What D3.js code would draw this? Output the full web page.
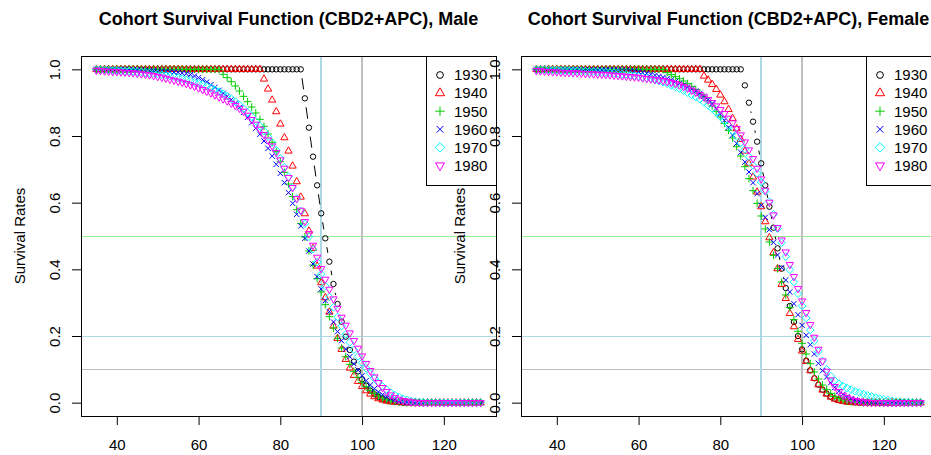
<!DOCTYPE html>
<html>
<head>
<meta charset="utf-8">
<script src="https://cdn.jsdelivr.net/npm/d3@7"></script>
<style>
  html, body { margin: 0; padding: 0; background: #ffffff; }
  svg { display: block; }
  text { font-family: "Liberation Sans", Arial, Helvetica, sans-serif; }
</style>
</head>
<body>
<svg id="chart" width="931" height="455"></svg>
<script>
// ---- data ----
const ageStart = 35, ageEnd = 129;
const ages = d3.range(ageStart, ageEnd + 1);
const cohorts = ["1930", "1940", "1950", "1960", "1970", "1980"];
const xTicks = [40, 60, 80, 100, 120];
const yTicks = [0, 0.2, 0.4, 0.6, 0.8, 1.0];
const hLines = [0.5, 0.2, 0.1];
const vLines = [90, 100];
const titles = ["Cohort Survival Function (CBD2+APC), Male", "Cohort Survival Function (CBD2+APC), Female"];
const yLabel = "Survival Rates";

const male1930 = [
1,1,1,1,1,1,1,1,1,1, 1,1,1,1,1,1,1,1,1,1, 1,1,1,1,1,1,1,1,1,1, 1,1,1,1,1,1,1,1,1,1, 1,1,1,1,1,1,1,1,1,1,
1,.913,.825,.738,.652,.568,.493,.423,.356,.296,
.243,.198,.158,.123,.094,.070,.051,.036,.025,.017,
.011,.007,.004,.002,.001,0,0,0,0,0, 0,0,0,0,0,0,0,0,0,0, 0,0,0,0,0];
const male1940 = [
1,1,1,1,1,1,1,1,1,1, 1,1,1,1,1,1,1,1,1,1, 1,1,1,1,1,1,1,1,1,1, 1,1,1,1,1,1,1,1,1,1,
1,.971,.941,.908,.873,.836,.795,.755,.710,.663,
.617,.567,.515,.463,.410,.360,.315,.272,.230,.193,
.160,.130,.104,.082,.064,.049,.036,.026,.018,.012,
.008,.005,.003,.002,.001,0,0,0,0,0, 0,0,0,0,0,0,0,0,0,0, 0,0,0,0,0];
const male1950 = [
1,1,1,1,1,1,1,1,1,1, 1,1,1,1,1,1,1,1,1,1, 1,1,1,1,1,1,1,1,1,1,
1,.985,.975,.963,.950,.935,.919,.903,.887,.869,
.850,.829,.806,.781,.753,.723,.691,.656,.618,.579,
.538,.497,.455,.413,.372,.332,.294,.258,.224,.193,
.164,.138,.115,.094,.076,.061,.048,.037,.028,.020,
.014,.009,.006,.004,.002,.001,0,0,0,0, 0,0,0,0,0,0,0,0,0,0, 0,0,0,0,0];
const male1960 = [
1,.999,.999,.999,.999,.999,.999,.998,.998,.998,
.998,.997,.997,.996,.996,.995,.995,.994,.993,.992,
.991,.989,.987,.984,.980,.975,.969,.962,.954,.946,
.937,.928,.919,.909,.898,.885,.871,.856,.840,.823,
.805,.785,.763,.740,.715,.688,.660,.630,.598,.565,
.530,.493,.455,.416,.378,.341,.306,.273,.242,.213,
.186,.161,.138,.117,.098,.081,.066,.053,.042,.032,
.024,.017,.012,.008,.005,.003,.002,.001,0,0, 0,0,0,0,0,0,0,0,0,0, 0,0,0,0,0];
const male1970 = [
.999,.999,.998,.998,.997,.997,.996,.995,.995,.994,
.993,.992,.990,.989,.988,.986,.984,.982,.980,.978,
.975,.972,.969,.966,.962,.958,.954,.949,.944,.939,
.933,.927,.920,.912,.903,.893,.882,.871,.858,.845,
.830,.815,.798,.780,.757,.733,.707,.678,.646,.612,
.575,.537,.498,.460,.422,.385,.350,.317,.286,.257,
.230,.205,.181,.159,.139,.120,.103,.087,.073,.060,
.049,.039,.030,.023,.017,.012,.008,.005,.003,.002,
.001,0,0,0,0,0,0,0,0,0, 0,0,0,0,0];
const male1980 = [
.997,.996,.995,.994,.993,.993,.992,.991,.990,.989,
.988,.986,.985,.983,.981,.978,.976,.973,.970,.967,
.964,.961,.957,.953,.949,.944,.939,.934,.929,.923,
.917,.911,.905,.898,.891,.883,.874,.862,.849,.835,
.820,.804,.788,.770,.750,.728,.703,.675,.645,.612,
.577,.543,.507,.472,.436,.402,.370,.340,.311,.283,
.256,.232,.209,.186,.163,.140,.117,.096,.077,.060,
.045,.033,.023,.015,.010,.006,.004,.002,.001,0,
0,0,0,0,0,0,0,0,0,0, 0,0,0,0,0];

const female1930 = [
1,1,1,1,1,1,1,1,1,1, 1,1,1,1,1,1,1,1,1,1, 1,1,1,1,1,1,1,1,1,1, 1,1,1,1,1,1,1,1,1,1, 1,1,1,1,1,1,1,1,1,1,
1,.952,.900,.843,.783,.718,.652,.588,.525,.463,
.402,.344,.290,.242,.200,.160,.126,.097,.073,.054,
.039,.027,.018,.012,.008,.005,.003,.002,.001,0,
0,0,0,0,0,0,0,0,0,0, 0,0,0,0,0];
const female1940 = [
1,1,1,1,1,1,1,1,1,1, 1,1,1,1,1,1,1,1,1,1, 1,1,1,1,1,1,1,1,1,1, 1,1,1,1,1,1,1,1,1,1,
1,.980,.968,.955,.940,.923,.903,.880,.853,.822,
.790,.755,.717,.677,.632,.588,.543,.495,.450,.402,
.355,.313,.268,.228,.190,.155,.124,.096,.073,.054,
.038,.026,.017,.011,.007,.004,.002,.001,0,0,
0,0,0,0,0,0,0,0,0,0, 0,0,0,0,0];
const female1950 = [
1,1,1,1,1,1,1,1,1,1, 1,1,1,1,1,1,1,1,1,1, 1,1,1,1,1,1,1,1,1,1,
1,1,.990,.984,.978,.972,.965,.957,.949,.939,
.929,.918,.905,.890,.874,.857,.838,.817,.794,.768,
.740,.708,.672,.636,.598,.560,.521,.482,.442,.402,
.362,.323,.285,.249,.214,.178,.146,.117,.092,.071,
.053,.039,.028,.019,.013,.008,.005,.003,.002,.001,
0,0,0,0,0,0,0,0,0,0, 0,0,0,0,0];
const female1960 = [
1,1,.999,.999,.999,.999,.999,.999,.999,.999,
.999,.999,.998,.998,.998,.998,.998,.998,.998,.998,
.998,.997,.997,.996,.995,.993,.990,.988,.985,.982,
.979,.976,.972,.968,.963,.958,.953,.947,.941,.935,
.928,.919,.909,.897,.883,.866,.847,.826,.803,.778,
.751,.722,.692,.660,.627,.592,.556,.519,.481,.443,
.405,.368,.332,.297,.264,.232,.202,.174,.146,.118,
.096,.077,.060,.046,.034,.025,.018,.012,.008,.005,
.003,.002,.001,0,0,0,0,0,0,0, 0,0,0,0,0];
const female1970 = [
.999,.999,.999,.998,.998,.998,.997,.997,.997,.996,
.996,.995,.995,.994,.994,.993,.992,.991,.990,.989,
.988,.986,.985,.983,.981,.979,.977,.974,.971,.968,
.965,.961,.957,.952,.947,.942,.936,.930,.923,.917,
.910,.901,.892,.882,.871,.859,.846,.832,.816,.799,
.780,.760,.738,.712,.688,.662,.634,.603,.565,.522,
.480,.438,.399,.362,.327,.290,.254,.218,.185,.154,
.125,.100,.080,.066,.057,.050,.044,.039,.034,.030,
.026,.022,.019,.015,.012,.010,.008,.006,.004,.003,
.002,.001,.001,0,0];
const female1980 = [
.996,.995,.994,.993,.992,.992,.991,.990,.990,.989,
.989,.988,.987,.987,.986,.985,.985,.984,.983,.982,
.981,.980,.979,.978,.977,.976,.974,.972,.971,.969,
.968,.966,.963,.960,.957,.953,.948,.943,.937,.931,
.924,.917,.909,.900,.890,.879,.867,.853,.839,.822,
.803,.782,.758,.732,.703,.671,.637,.601,.563,.525,
.488,.452,.414,.378,.342,.305,.270,.234,.196,.160,
.125,.094,.068,.048,.033,.022,.015,.010,.006,.004,
.002,.001,0,0,0,0,0,0,0,0, 0,0,0,0,0];

const maleSeries = [male1930, male1940, male1950, male1960, male1970, male1980];
const femaleSeries = [female1930, female1940, female1950, female1960, female1970, female1980];

// ---- style ----
const colors = ["#000000", "#FF0000", "#00CD00", "#0000FF", "#00FFFF", "#FF00FF"];
const hLineColors = ["#90EE90", "#ADD8E6", "#BEBEBE"];
const vLineColors = ["#ADD8E6", "#BEBEBE"];
const fontSize = 15;
const pointSize = 0.6 * fontSize * 0.8;   // R symbol size for points
const legendSize = 0.6 * fontSize * 1.0;  // R symbol size in legend
const lineGap = 9;                          // type="b" gap around points

function symbolPath(pch, s) {
  const xc = 0.375 * s;
  if (pch === 2 || pch === 6) {
    const r = 1.5551 * xc, xc2 = r * Math.sqrt(3) / 2, yc = r / 2;
    return pch === 2
      ? `M0,${-r}L${xc2},${yc}L${-xc2},${yc}Z`
      : `M0,${r}L${xc2},${-yc}L${-xc2},${-yc}Z`;
  }
  if (pch === 3) { const c = Math.SQRT2 * xc; return `M${-c},0H${c}M0,${-c}V${c}`; }
  if (pch === 4) { return `M${-xc},${-xc}L${xc},${xc}M${-xc},${xc}L${xc},${-xc}`; }
  if (pch === 5) { const c = Math.SQRT2 * xc; return `M${-c},0L0,${-c}L${c},0L0,${c}Z`; }
  return null;
}
function drawSymbol(g, pch, s, col, cx, cy) {
  if (pch === 1) {
    g.append("circle").attr("cx", cx).attr("cy", cy).attr("r", 0.375 * s)
      .attr("fill", "none").attr("stroke", col).attr("stroke-width", 1);
  } else {
    g.append("path").attr("d", symbolPath(pch, s)).attr("transform", `translate(${cx},${cy})`)
      .attr("fill", "none").attr("stroke", col).attr("stroke-width", 1);
  }
}

const svg = d3.select("#chart");
const plotW = 415, plotTop = 56, plotBottom = 416;
const panels = [
  { x0: 81, series: maleSeries, title: titles[0] },
  { x0: 521, series: femaleSeries, title: titles[1] }
];

panels.forEach((p, pi) => {
  const x = d3.scaleLinear().domain([ageStart - 0.04 * (ageEnd - ageStart), ageEnd + 0.04 * (ageEnd - ageStart)])
    .range([p.x0, p.x0 + plotW]);
  const y = d3.scaleLinear().domain([-0.04, 1.04]).range([plotBottom, plotTop]);
  const g = svg.append("g");
  const clipId = "clip" + pi;
  g.append("clipPath").attr("id", clipId).append("rect")
    .attr("x", p.x0).attr("y", plotTop).attr("width", plotW).attr("height", plotBottom - plotTop);
  const plotG = g.append("g").attr("clip-path", `url(#${clipId})`);

  // reference lines
  hLines.forEach((h, i) => {
    const yy = Math.round(y(h)) + 0.5;
    plotG.append("line").attr("x1", p.x0).attr("x2", p.x0 + plotW).attr("y1", yy).attr("y2", yy)
      .attr("stroke", hLineColors[i]).attr("stroke-width", 1);
  });
  vLines.forEach((v, i) => {
    const xx = Math.round(x(v));
    plotG.append("line").attr("x1", xx).attr("x2", xx).attr("y1", plotTop).attr("y2", plotBottom)
      .attr("stroke", vLineColors[i]).attr("stroke-width", 2);
  });

  // series (type = "b")
  p.series.forEach((vals, si) => {
    const col = colors[si];
    const pts = ages.map((a, i) => [x(a), y(vals[i])]);
    for (let i = 1; i < pts.length; i++) {
      const [x0, y0] = pts[i - 1], [x1, y1] = pts[i];
      const dist = Math.hypot(x1 - x0, y1 - y0);
      const f = lineGap / dist;
      if (f < 0.5) {
        plotG.append("line")
          .attr("x1", x0 + f * (x1 - x0)).attr("y1", y0 + f * (y1 - y0))
          .attr("x2", x1 - f * (x1 - x0)).attr("y2", y1 - f * (y1 - y0))
          .attr("stroke", col).attr("stroke-width", 1);
      }
    }
    pts.forEach(([cx, cy]) => drawSymbol(plotG, si + 1, pointSize, col, cx, cy));
  });

  // axes
  const xAxis = g.append("g").attr("transform", `translate(0,${plotBottom})`)
    .call(d3.axisBottom(x).tickValues(xTicks).tickSize(9).tickFormat(d3.format("d")));
  xAxis.select(".domain").remove();
  xAxis.selectAll(".tick line").attr("stroke", "#000");
  xAxis.selectAll(".tick text").attr("y", 34).attr("dy", null)
    .attr("font-size", fontSize).attr("fill", "#000").attr("font-family", null);

  const yAxis = g.append("g").attr("transform", `translate(${p.x0},0)`)
    .call(d3.axisLeft(y).tickValues(yTicks).tickSize(9).tickFormat(d3.format(".1f")));
  yAxis.select(".domain").remove();
  yAxis.selectAll(".tick line").attr("stroke", "#000");
  yAxis.selectAll(".tick text").attr("x", null).attr("dy", null)
    .attr("transform", "translate(-21,0) rotate(-90)")
    .attr("text-anchor", "middle")
    .attr("font-size", fontSize).attr("fill", "#000").attr("font-family", null);

  // box
  g.append("rect").attr("x", p.x0 + 0.5).attr("y", plotTop + 0.5)
    .attr("width", plotW).attr("height", plotBottom - plotTop)
    .attr("fill", "none").attr("stroke", "#000").attr("stroke-width", 1);

  // title
  g.append("text").attr("x", p.x0 + plotW / 2).attr("y", 25).attr("text-anchor", "middle")
    .attr("font-size", 18).attr("font-weight", "bold").attr("fill", "#000").text(p.title);

  // y label
  g.append("text").attr("transform", `translate(${p.x0 - 56},${(plotTop + plotBottom) / 2}) rotate(-90)`)
    .attr("text-anchor", "middle").attr("font-size", fontSize).attr("fill", "#000").text(yLabel);

  // legend
  const lw = 70, lh = 129, lx = p.x0 + plotW - lw, ly = plotTop;
  const lg = g.append("g");
  lg.append("rect").attr("x", lx + 0.5).attr("y", ly + 0.5).attr("width", lw).attr("height", lh)
    .attr("fill", "#fff").attr("stroke", "#000").attr("stroke-width", 1);
  cohorts.forEach((c, i) => {
    const cy = ly + 19 + i * 18.1;
    drawSymbol(lg, i + 1, legendSize, colors[i], lx + 14, cy);
    lg.append("text").attr("x", lx + 28).attr("y", cy + 5.3).attr("font-size", fontSize)
      .attr("fill", "#000").text(c);
  });
});
</script>
</body>
</html>
